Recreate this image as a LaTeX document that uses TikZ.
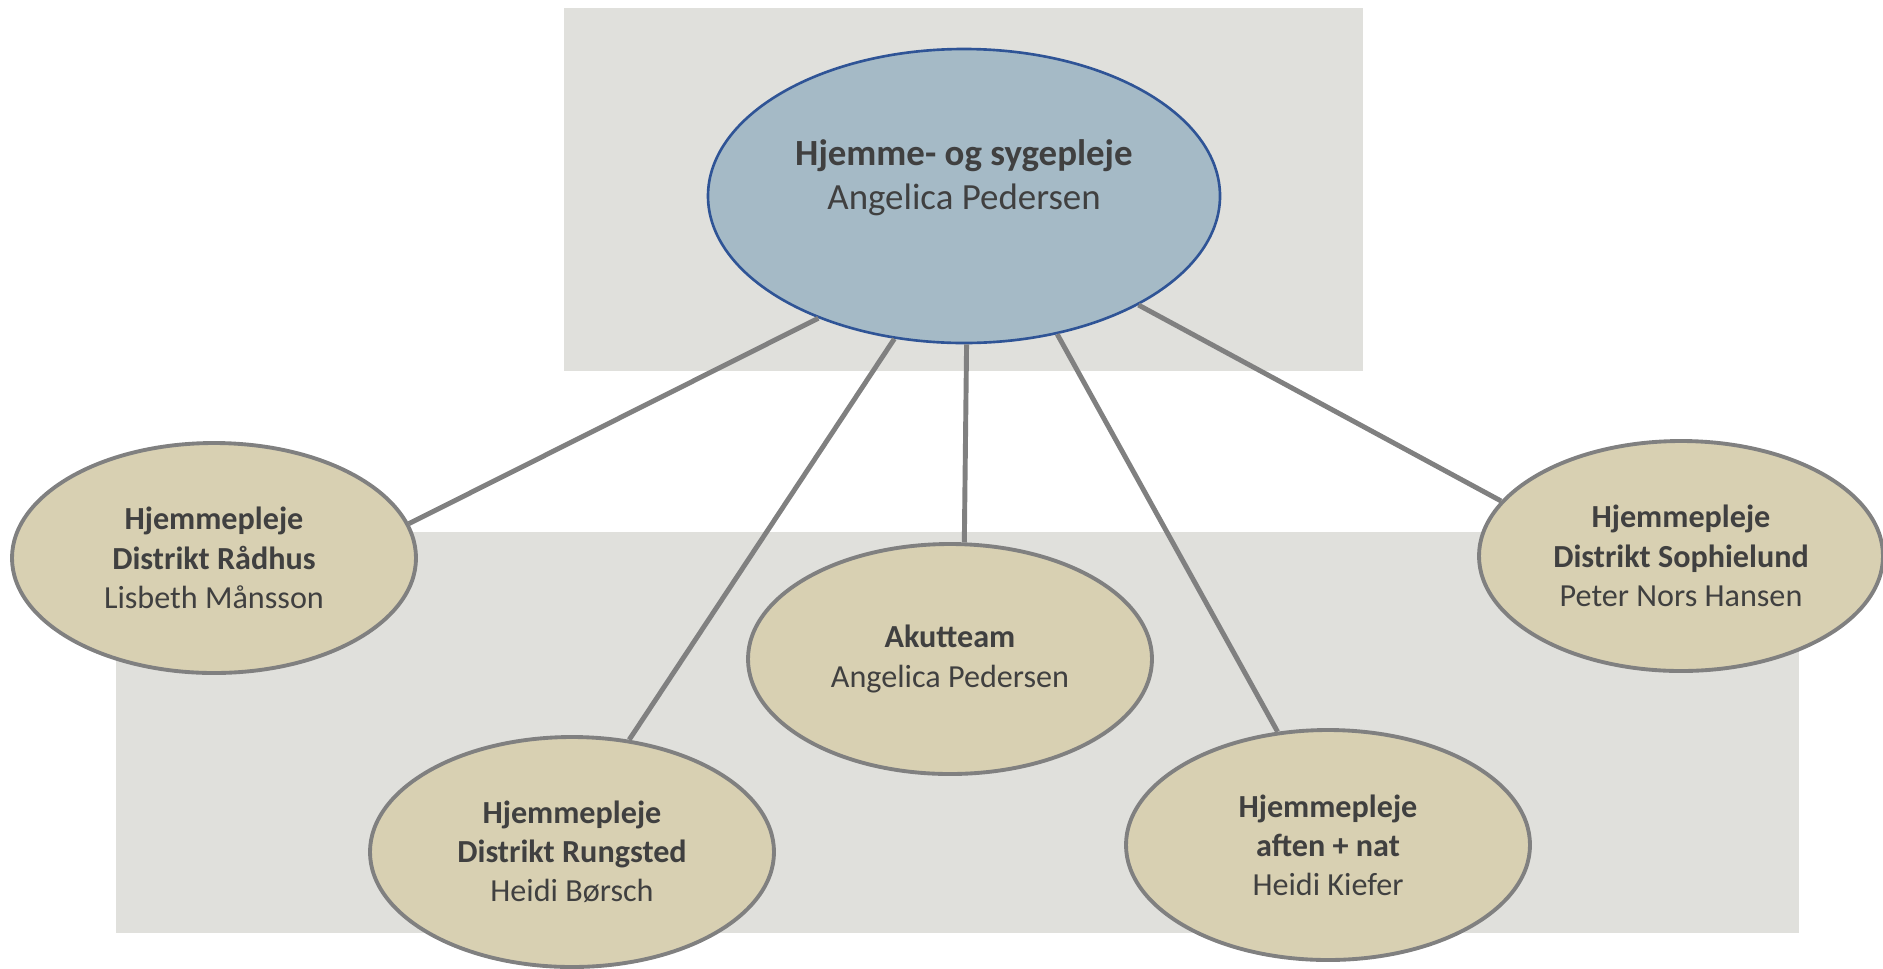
\documentclass[tikz,border=0pt]{standalone}
\usepackage{fontspec}
\setmainfont{Carlito}
\usetikzlibrary{shapes.geometric}
\definecolor{panelgray}{HTML}{E0E0DC}
\definecolor{leaderblue}{HTML}{A5BAC6}
\definecolor{leaderedge}{HTML}{2F5496}
\definecolor{unitsand}{HTML}{D8D0B2}
\definecolor{edgegray}{HTML}{808080}
\definecolor{textgray}{HTML}{404040}
\tikzset{
  leader/.style={ellipse, draw=leaderedge, line width=1.5pt, fill=leaderblue,
    minimum width=512*0.02cm, minimum height=294*0.02cm, inner sep=0pt,
    text=textgray, font=\fontsize{21}{25}\selectfont, align=center},
  unit/.style={ellipse, draw=edgegray, line width=2.2pt, fill=unitsand,
    minimum width=404*0.02cm, minimum height=230*0.02cm, inner sep=0pt,
    text=textgray, font=\fontsize{18.3}{22.3}\selectfont, align=center},
  link/.style={draw=edgegray, line width=2.8pt}
}
\begin{document}
\begin{tikzpicture}[x=0.02cm, y=-0.02cm]
    \useasboundingbox (0,0) rectangle (1883,968);

    % Panels behind
    \fill[panelgray] (564,8) rectangle (1363,371);
    \fill[panelgray] (116,532) rectangle (1799,933);

    % Leader
    \node[leader] (leder) at (964,196)
      {\raisebox{40pt}{\begin{tabular}{@{}c@{}}\textbf{Hjemme- og sygepleje}\\Angelica Pedersen\end{tabular}}};

    % Units
    \node[unit] (raadhus) at (214,558)
      {\textbf{Hjemmepleje}\\\textbf{Distrikt Rådhus}\\Lisbeth Månsson};
    \node[unit] (rungsted) at (572,852)
      {\textbf{Hjemmepleje}\\\textbf{Distrikt Rungsted}\\Heidi Børsch};
    \node[unit] (akut) at (950,659)
      {\textbf{Akutteam}\\Angelica Pedersen};
    \node[unit] (aften) at (1328,845)
      {\textbf{Hjemmepleje}\\\textbf{aften + nat}\\Heidi Kiefer};
    \node[unit] (sophie) at (1681,556)
      {\textbf{Hjemmepleje}\\\textbf{Distrikt Sophielund}\\Peter Nors Hansen};

    % Connectors
    \draw[link] (leder.220) -- (raadhus.10);
    \draw[link] (leder.244) -- (rungsted.63);
    \draw[link] (leder.271.5) -- (akut.83);
    \draw[link] (leder.304) -- (aften.114);
    \draw[link] (leder.328) -- (sophie.163);
\end{tikzpicture}
\end{document}
